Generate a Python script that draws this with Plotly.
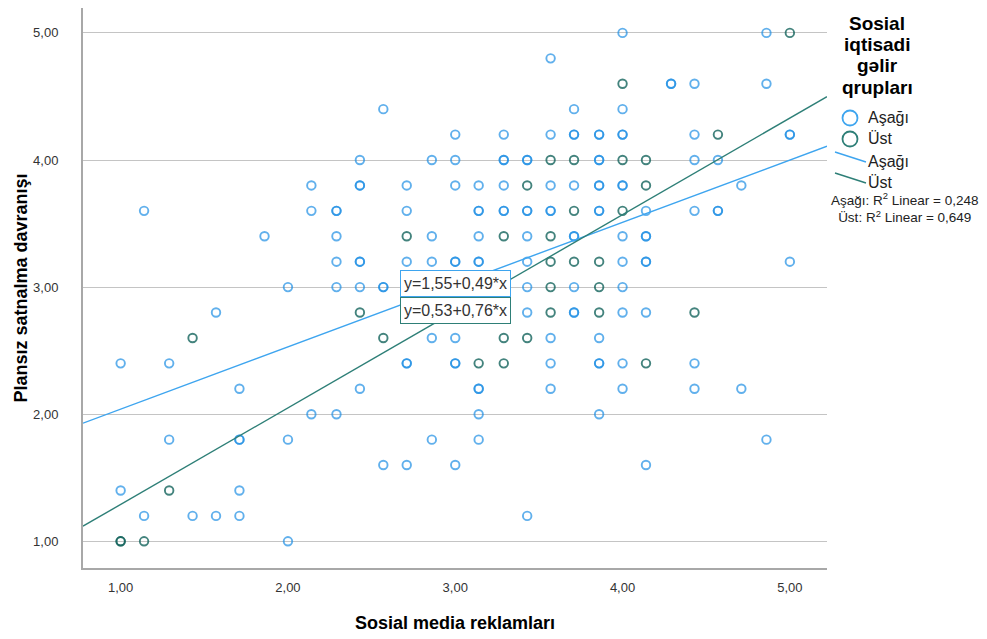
import plotly.graph_objects as go

# ---------------- data ----------------
# Group "Aşağı" (lower income): x, y and number of overlapping cases
asagi_x = [4.00, 4.86,
           3.57,
           4.29, 4.43, 4.86,
           2.57, 3.71, 4.00,
           3.00, 3.29, 3.57, 3.71, 3.86, 4.00, 4.43, 5.00,
           2.43, 2.86, 3.00, 3.29, 3.43, 3.86, 4.43, 4.57,
           2.14, 2.43, 2.71, 3.00, 3.14, 3.29, 3.57, 3.71, 3.86, 4.00, 4.71,
           1.14, 2.14, 2.29, 2.71, 3.14, 3.29, 3.43, 3.57, 3.86, 4.14, 4.43, 4.57,
           1.86, 2.29, 2.86, 3.14, 3.43, 3.71, 4.00, 4.14,
           2.29, 2.43, 2.71, 2.86, 3.00, 3.14, 3.43, 4.00, 4.14, 5.00,
           2.00, 2.29, 2.43, 2.57, 3.43, 3.71, 4.00,
           1.57, 3.43, 3.71, 4.00, 4.14,
           2.86, 3.00, 3.57, 3.86,
           1.00, 1.29, 2.71, 3.00, 3.57, 3.86, 4.00, 4.43,
           1.71, 2.43, 3.14, 3.57, 4.00, 4.43, 4.71,
           2.14, 2.29, 3.14, 3.86,
           1.29, 1.71, 2.00, 2.86, 3.14, 4.86,
           2.57, 2.71, 3.00, 4.14,
           1.00, 1.71,
           1.14, 1.43, 1.57, 1.71, 3.43,
           2.00]
asagi_y = [5.0, 5.0,
           4.8,
           4.6, 4.6, 4.6,
           4.4, 4.4, 4.4,
           4.2, 4.2, 4.2, 4.2, 4.2, 4.2, 4.2, 4.2,
           4.0, 4.0, 4.0, 4.0, 4.0, 4.0, 4.0, 4.0,
           3.8, 3.8, 3.8, 3.8, 3.8, 3.8, 3.8, 3.8, 3.8, 3.8, 3.8,
           3.6, 3.6, 3.6, 3.6, 3.6, 3.6, 3.6, 3.6, 3.6, 3.6, 3.6, 3.6,
           3.4, 3.4, 3.4, 3.4, 3.4, 3.4, 3.4, 3.4,
           3.2, 3.2, 3.2, 3.2, 3.2, 3.2, 3.2, 3.2, 3.2, 3.2,
           3.0, 3.0, 3.0, 3.0, 3.0, 3.0, 3.0,
           2.8, 2.8, 2.8, 2.8, 2.8,
           2.6, 2.6, 2.6, 2.6,
           2.4, 2.4, 2.4, 2.4, 2.4, 2.4, 2.4, 2.4,
           2.2, 2.2, 2.2, 2.2, 2.2, 2.2, 2.2,
           2.0, 2.0, 2.0, 2.0,
           1.8, 1.8, 1.8, 1.8, 1.8, 1.8,
           1.6, 1.6, 1.6, 1.6,
           1.4, 1.4,
           1.2, 1.2, 1.2, 1.2, 1.2,
           1.0]
asagi_n = [1, 1,
           1,
           2, 1, 1,
           1, 1, 1,
           1, 1, 1, 2, 2, 2, 1, 2,
           1, 1, 1, 2, 2, 2, 1, 1,
           1, 2, 1, 1, 1, 1, 1, 1, 2, 2, 1,
           1, 1, 2, 1, 2, 2, 2, 2, 2, 1, 1, 2,
           1, 1, 1, 1, 1, 2, 1, 2,
           1, 2, 1, 1, 2, 2, 1, 1, 2, 1,
           1, 1, 1, 2, 1, 1, 1,
           1, 1, 2, 1, 1,
           1, 1, 1, 1,
           1, 1, 2, 2, 1, 2, 1, 1,
           1, 1, 2, 1, 1, 1, 1,
           1, 1, 1, 1,
           1, 2, 1, 1, 1, 1,
           1, 1, 1, 1,
           1, 1,
           1, 1, 1, 1, 1,
           1]

# Group "Üst" (upper income)
ust_x = [5.00, 4.00, 4.57,
         3.57, 3.71, 4.00, 4.14,
         3.43, 4.14,
         3.71, 4.00,
         2.71, 3.29, 3.57,
         3.57, 3.71, 3.86,
         3.57, 3.86,
         2.43, 3.57, 3.86, 4.43,
         1.43, 2.57, 3.29, 3.43,
         3.14, 3.29, 4.14,
         1.29,
         1.00, 1.14]
ust_y = [5.0, 4.6, 4.2,
         4.0, 4.0, 4.0, 4.0,
         3.8, 3.8,
         3.6, 3.6,
         3.4, 3.4, 3.4,
         3.2, 3.2, 3.2,
         3.0, 3.0,
         2.8, 2.8, 2.8, 2.8,
         2.6, 2.6, 2.6, 2.6,
         2.4, 2.4, 2.4,
         1.4,
         1.0, 1.0]
ust_n = [1, 1, 1,
         1, 1, 1, 1,
         1, 1,
         1, 1,
         1, 1, 1,
         1, 1, 1,
         1, 1,
         1, 1, 1, 1,
         1, 1, 1, 1,
         1, 1, 1,
         1,
         2, 1]

# Linear fit lines (intercept, slope) and R² values
group_names = ["Aşağı", "Üst"]
fit_intercepts = [1.55, 0.53]
fit_slopes = [0.49, 0.76]
fit_labels = ["y=1,55+0,49*x", "y=0,53+0,76*x"]
r2_text = "Aşağı: R<sup>2</sup> Linear = 0,248<br>Üst: R<sup>2</sup> Linear = 0,649"

tick_vals = [1, 2, 3, 4, 5]
tick_text = ["1,00", "2,00", "3,00", "4,00", "5,00"]
legend_title_lines = ["Sosial", "iqtisadi", "gəlir", "qrupları"]

x_title = "Sosial media reklamları"
y_title = "Plansız satnalma davranışı"

# ---------------- styling ----------------
FONT = "Liberation Sans, Arial, Helvetica, sans-serif"
BLUE_MK = "rgba(30,142,228,0.70)"
TEAL_MK = "rgba(20,100,92,0.80)"
BLUE_LN = "#3ea5ef"
TEAL_LN = "#2e7f77"
X_RANGE = [0.775, 5.222]
Y_RANGE = [0.79, 5.196]

OFF = 8                       # default page (body) margin of the html page
SW, SH = 987, 639             # screen size
W, H = SW - OFF, SH - OFF     # figure size
L, R, T, B = 83, 827, 8, 568  # plot area in screen pixels
PW, PH = R - L, B - T


def px_x(p):
    return (p - L) / PW


def px_y(p):
    return (B - p) / PH


def expand(xs, ys, ns):
    ex, ey = [], []
    for x, y, n in zip(xs, ys, ns):
        for _ in range(n):
            ex.append(x)
            ey.append(y)
    return ex, ey


fig = go.Figure()

for (xs, ys, ns), col, name in [((asagi_x, asagi_y, asagi_n), BLUE_MK, group_names[0]),
                                ((ust_x, ust_y, ust_n), TEAL_MK, group_names[1])]:
    ex, ey = expand(xs, ys, ns)
    fig.add_trace(go.Scatter(
        x=ex, y=ey, mode="markers", name=name, showlegend=False,
        marker=dict(symbol="circle-open", size=8.5, color=col, line=dict(width=1.9)),
        hoverinfo="x+y"))

for a, b, col, name in zip(fit_intercepts, fit_slopes, [BLUE_LN, TEAL_LN], group_names):
    fig.add_trace(go.Scatter(
        x=X_RANGE, y=[a + b * X_RANGE[0], a + b * X_RANGE[1]],
        mode="lines", name=name, showlegend=False,
        line=dict(color=col, width=1.4)))

annotations = []
shapes = []

# equation boxes
for label, yv, col in zip(fit_labels, [3.03, 2.815], [BLUE_LN, TEAL_LN]):
    annotations.append(dict(
        x=3.0, y=yv, xref="x", yref="y", text=label, showarrow=False,
        font=dict(family=FONT, size=16, color="#333333"),
        bgcolor="white", bordercolor=col, borderwidth=1, borderpad=2,
        width=105, height=21, xanchor="center", yanchor="middle"))

# legend title
for line, py in zip(legend_title_lines, [23, 45, 66, 87]):
    annotations.append(dict(
        x=px_x(877), y=px_y(py), xref="paper", yref="paper", text=line,
        showarrow=False, xanchor="center", yanchor="middle",
        font=dict(family=FONT, size=19, color="#000000", weight="bold")))

# legend items
for name, py, col in zip(group_names, [118, 139], [BLUE_LN, TEAL_LN]):
    shapes.append(dict(
        type="circle", xref="paper", yref="paper", xsizemode="pixel", ysizemode="pixel",
        xanchor=px_x(850), yanchor=px_y(py), x0=-7.5, x1=7.5, y0=-7.5, y1=7.5,
        line=dict(color=col, width=1.8)))
    annotations.append(dict(
        x=px_x(866), y=px_y(py), xref="paper", yref="paper", text=name,
        showarrow=False, xanchor="left", yanchor="middle",
        font=dict(family=FONT, size=16, color="#222222")))

for name, py, col in zip(group_names, [161, 182], [BLUE_LN, TEAL_LN]):
    shapes.append(dict(
        type="line", xref="paper", yref="paper",
        x0=px_x(835), y0=px_y(py - 9), x1=px_x(866), y1=px_y(py + 1),
        line=dict(color=col, width=1.4)))
    annotations.append(dict(
        x=px_x(866), y=px_y(py), xref="paper", yref="paper", text=name,
        showarrow=False, xanchor="left", yanchor="middle",
        font=dict(family=FONT, size=16, color="#222222")))

annotations.append(dict(
    x=px_x(905), y=px_y(208), xref="paper", yref="paper", text=r2_text,
    showarrow=False, xanchor="center", yanchor="middle", align="center",
    font=dict(family=FONT, size=13.5, color="#222222")))

fig.update_layout(
    width=W, height=H,
    margin=dict(l=L - OFF, r=SW - R, t=T - OFF, b=SH - B, autoexpand=False),
    paper_bgcolor="white", plot_bgcolor="white",
    font=dict(family=FONT, color="#333333"),
    showlegend=False,
    annotations=annotations, shapes=shapes,
    xaxis=dict(
        range=X_RANGE, tickvals=tick_vals, ticktext=tick_text,
        showgrid=False, zeroline=False, showline=True,
        linecolor="#a8a8a8", linewidth=2, ticks="", ticklabelstandoff=6,
        tickfont=dict(family=FONT, size=13, color="#333333"),
        title=dict(text=x_title, standoff=23,
                   font=dict(family=FONT, size=18, color="#000000", weight="bold"))),
    yaxis=dict(
        range=Y_RANGE, tickvals=tick_vals, ticktext=tick_text,
        showgrid=True, gridcolor="#c4c4c4", gridwidth=1.2,
        zeroline=False, showline=True,
        linecolor="#a8a8a8", linewidth=2, ticks="", ticklabelstandoff=20,
        tickfont=dict(family=FONT, size=13, color="#333333"),
        title=dict(text=y_title, standoff=1,
                   font=dict(family=FONT, size=18, color="#000000", weight="bold"))),
)

fig.write_html("out.html")
